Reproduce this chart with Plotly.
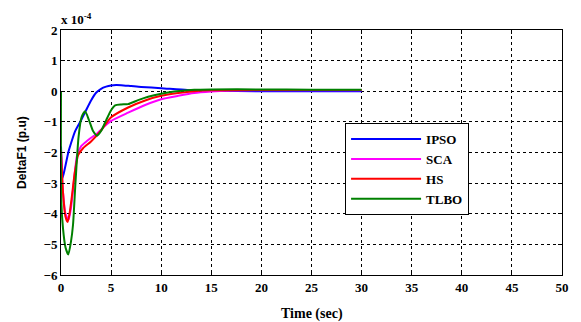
import plotly.graph_objects as go

# Time (s) and DeltaF1 (x 1e-4 p.u.) for each controller
t_ipso = [0, 0.15, 0.4, 0.75, 1.0, 1.4, 2.0, 2.5, 3.0, 3.5, 4.0, 4.5, 5.0, 5.5, 6.0, 7.0, 8.0, 10, 12.6, 15, 20, 25, 30]
y_ipso = [-1.8, -2.84, -2.5, -1.97, -1.7, -1.31, -0.95, -0.62, -0.3, -0.05, 0.08, 0.15, 0.19, 0.205, 0.2, 0.17, 0.14, 0.1, 0.04, 0.02, 0.0, 0.0, 0.0]

t_sca = [0, 0.2, 0.45, 0.75, 1.0, 1.3, 1.6, 2.0, 2.5, 3.0, 3.6, 4.4, 5.0, 6.7, 8.4, 10, 11.7, 13.3, 15, 16.5, 20, 25, 30]
y_sca = [-2.0, -3.3, -4.0, -4.2, -3.8, -2.9, -2.1, -1.8, -1.65, -1.52, -1.38, -1.13, -0.97, -0.7, -0.45, -0.26, -0.15, -0.06, -0.01, 0.02, 0.03, 0.03, 0.03]

t_hs = [0, 0.2, 0.45, 0.66, 0.85, 1.06, 1.39, 1.72, 2.2, 3.0, 4.0, 4.5, 5.0, 6.7, 8.4, 10, 11.7, 13.3, 15, 20, 25, 30]
y_hs = [-1.9, -3.3, -4.1, -4.27, -4.0, -3.5, -2.62, -2.08, -1.86, -1.64, -1.28, -1.05, -0.85, -0.53, -0.3, -0.15, -0.06, 0.0, 0.03, 0.04, 0.04, 0.04]

t_tlbo = [0, 0.02, 0.2, 0.45, 0.73, 1.0, 1.2, 1.45, 1.75, 2.05, 2.4, 2.8, 3.2, 3.6, 4.0, 4.5, 5.0, 5.4, 6.0, 6.7, 7.7, 8.7, 10, 11.3, 13.3, 15, 20, 25, 30]
y_tlbo = [0, -3.5, -4.48, -5.1, -5.33, -4.9, -4.36, -2.95, -1.5, -0.85, -0.65, -0.95, -1.3, -1.45, -1.3, -0.95, -0.62, -0.46, -0.43, -0.42, -0.29, -0.18, -0.08, -0.01, 0.05, 0.06, 0.06, 0.05, 0.05]

series = [
    ("IPSO", t_ipso, y_ipso, "#0000FF"),
    ("SCA", t_sca, y_sca, "#FF00FF"),
    ("HS", t_hs, y_hs, "#FF0000"),
    ("TLBO", t_tlbo, y_tlbo, "#008000"),
]

x_ticks = list(range(0, 51, 5))
y_ticks = list(range(-6, 3, 1))

serif = "Liberation Serif"

fig = go.Figure()
for name, t, y, c in series:
    fig.add_trace(go.Scatter(x=t, y=y, name=name, mode="lines",
                             line=dict(color=c, width=2, shape="spline", smoothing=0.6)))

axis_common = dict(
    showgrid=True, gridcolor="black", griddash="3px,3px", gridwidth=1,
    showline=True, linecolor="black", linewidth=1, mirror="ticks",
    ticks="inside", ticklen=4, tickcolor="black", zeroline=False,
    tickfont=dict(family=serif, size=13, color="black", weight="bold"),
)

fig.update_layout(
    width=581, height=322,
    margin=dict(l=61, r=14, t=30, b=47),
    paper_bgcolor="white", plot_bgcolor="white",
    xaxis=dict(range=[0, 50], tickvals=x_ticks, **axis_common),
    yaxis=dict(range=[-6, 2], tickvals=y_ticks, **axis_common),
    legend=dict(x=0.567, y=0.62, xanchor="left", yanchor="top",
                bordercolor="black", borderwidth=1, bgcolor="white",
                itemwidth=70,
                font=dict(family=serif, size=13, color="black", weight="bold")),
    annotations=[
        dict(text="x 10<sup>-4</sup>", xref="paper", yref="paper", x=0, y=1,
             xanchor="left", yanchor="bottom", showarrow=False, xshift=-2, yshift=1,
             font=dict(family=serif, size=13, color="black", weight="bold")),
        dict(text="Time (sec)", xref="paper", yref="paper", x=0.5, y=-0.159,
             xanchor="center", yanchor="middle", showarrow=False,
             font=dict(family=serif, size=14, color="black", weight="bold")),
        dict(text="DeltaF1 (p.u)", xref="paper", yref="paper", x=-0.079, y=0.5,
             xanchor="center", yanchor="middle", showarrow=False, textangle=-90,
             font=dict(family="Liberation Sans", size=12, color="black", weight="bold")),
    ],
)

fig.write_html("out.html")
